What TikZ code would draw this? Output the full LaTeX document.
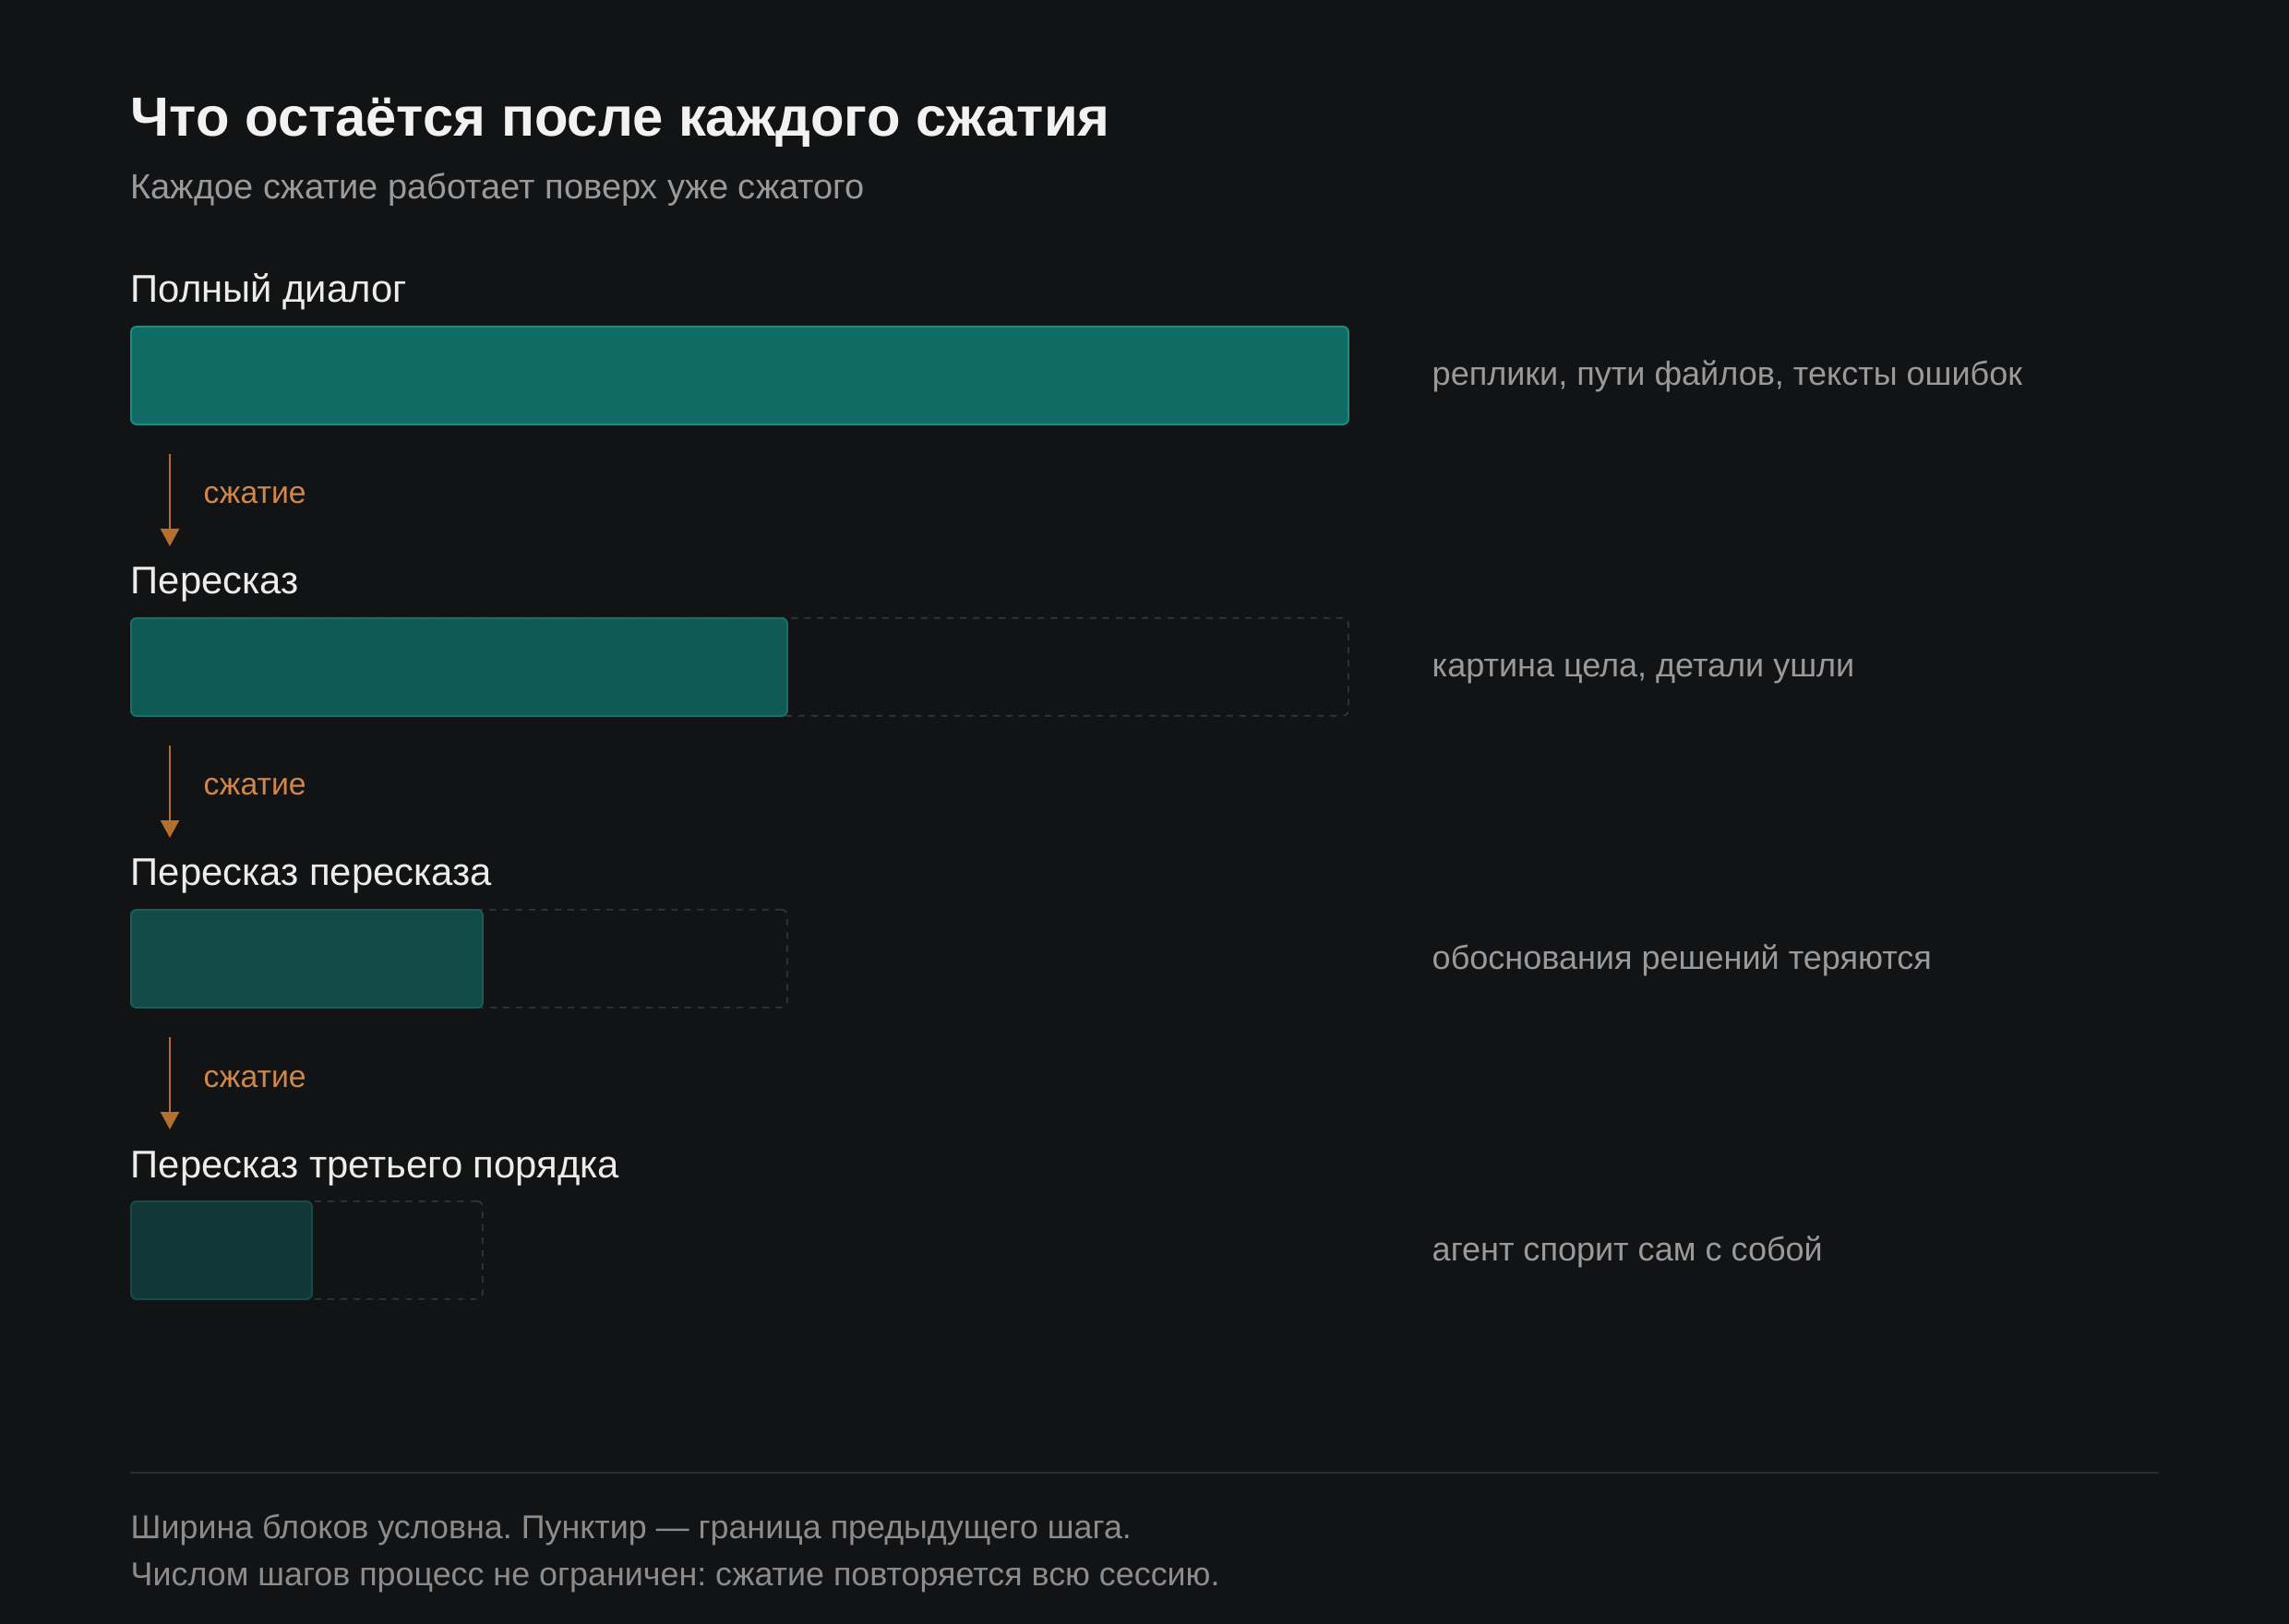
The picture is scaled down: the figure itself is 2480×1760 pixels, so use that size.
\documentclass[tikz,border=0pt]{standalone}
\usepackage{fontspec}
\setmainfont{Liberation Sans}
\usepackage{xcolor}
\usetikzlibrary{arrows.meta,positioning}
\frenchspacing

\definecolor{bgdark}{HTML}{121315}
\definecolor{titlewhite}{HTML}{F2F2F0}
\definecolor{labelwhite}{HTML}{ECECEA}
\definecolor{notegray}{HTML}{9A9A9A}
\definecolor{footgray}{HTML}{8C8C8C}
\definecolor{rulegray}{HTML}{2B2D30}
\definecolor{ghostgray}{HTML}{34373A}
\definecolor{squeezeline}{HTML}{B5702F}
\definecolor{squeezetext}{HTML}{D0874A}
\definecolor{fillA}{HTML}{116B65}
\definecolor{edgeA}{HTML}{1B8C81}
\definecolor{fillB}{HTML}{0F5A55}
\definecolor{edgeB}{HTML}{1A7068}
\definecolor{fillC}{HTML}{114A47}
\definecolor{edgeC}{HTML}{1A5E59}
\definecolor{fillD}{HTML}{103836}
\definecolor{edgeD}{HTML}{184C48}

\tikzset{>={Triangle[width=2mm,length=1.9mm]}}

\begin{document}
\begin{tikzpicture}[x=0.1mm, y=-0.1mm,
                    title/.style={anchor=base west, inner sep=0, text=titlewhite,
                                  font=\fontsize{17}{20}\selectfont\bfseries},
                    subtitle/.style={anchor=base west, inner sep=0, text=notegray,
                                     font=\fontsize{10.8}{13}\selectfont},
                    steplabel/.style={anchor=base west, inner sep=0, text=labelwhite,
                                      font=\fontsize{11.9}{14}\selectfont},
                    note/.style={anchor=base west, inner sep=0, text=notegray,
                                 font=\fontsize{10.25}{13}\selectfont},
                    squeeze/.style={->, squeezeline, line width=0.7pt},
                    squeezelabel/.style={anchor=base west, inner sep=0, text=squeezetext,
                                         font=\fontsize{9.6}{12}\selectfont},
                    bar/.style={anchor=north west, inner sep=0, minimum height=10.6mm,
                                rounded corners=0.6mm, line width=0.55pt},
                    ghost/.style={bar, draw=ghostgray, dashed, dash pattern=on 2pt off 2pt,
                                  line width=0.45pt},
                    footnote/.style={anchor=base west, inner sep=0, text=footgray,
                                     font=\fontsize{10.2}{13}\selectfont},
                   ]

% background
\fill[bgdark] (0,0) rectangle (2480,1760);
\useasboundingbox (0,0) rectangle (2480,1760);

% heading
\node[title] (title) at (141,147.7) {Что остаётся после каждого сжатия};
\node[subtitle] (subtitle) at (141,216) {Каждое сжатие работает поверх уже сжатого};

% step 1
\node[steplabel] (lblfull) at (141,328) {Полный диалог};
\node[bar, fill=fillA, draw=edgeA, minimum width=131.9mm] (barfull) at (141,353) {};
\node[note] (notefull) at (1551,418) {реплики, пути файлов, тексты ошибок};

% step 2
\node[steplabel] (lblretell) at (141,644) {Пересказ};
\node[ghost, minimum width=131.9mm] (ghostretell) at (141,669) {};
\node[bar, fill=fillB, draw=edgeB, minimum width=71.1mm] (barretell) at (141,669) {};
\node[note] (noteretell) at (1551,734) {картина цела, детали ушли};

% step 3
\node[steplabel] (lblsecond) at (141,960) {Пересказ пересказа};
\node[ghost, minimum width=71.1mm] (ghostsecond) at (141,985) {};
\node[bar, fill=fillC, draw=edgeC, minimum width=38.1mm] (barsecond) at (141,985) {};
\node[note] (notesecond) at (1551,1050) {обоснования решений теряются};

% step 4
\node[steplabel] (lblthird) at (141,1276) {Пересказ третьего порядка};
\node[ghost, minimum width=38.1mm] (ghostthird) at (141,1301) {};
\node[bar, fill=fillD, draw=edgeD, minimum width=19.6mm] (barthird) at (141,1301) {};
\node[note] (notethird) at (1551,1366) {агент спорит сам с собой};

% squeeze arrows
\coordinate (sq1s) at (184,492);
\coordinate (sq1e) at (184,592);
\coordinate (sq2s) at (184,808);
\coordinate (sq2e) at (184,908);
\coordinate (sq3s) at (184,1124);
\coordinate (sq3e) at (184,1224);
\draw[squeeze] (sq1s) -- (sq1e);
\draw[squeeze] (sq2s) -- (sq2e);
\draw[squeeze] (sq3s) -- (sq3e);
\node[squeezelabel] (sqlbl1) at (220,546) {сжатие};
\node[squeezelabel] (sqlbl2) at (220,862) {сжатие};
\node[squeezelabel] (sqlbl3) at (220,1178) {сжатие};

% footer
\coordinate (rulel) at (141,1596);
\coordinate (ruler) at (2339,1596);
\draw[rulegray, line width=0.57pt] (rulel) -- (ruler);
\node[footnote] (foot1) at (141,1667) {Ширина блоков условна. Пунктир — граница предыдущего шага.};
\node[footnote] (foot2) at (141,1718) {Числом шагов процесс не ограничен: сжатие повторяется всю сессию.};

\end{tikzpicture}
\end{document}
